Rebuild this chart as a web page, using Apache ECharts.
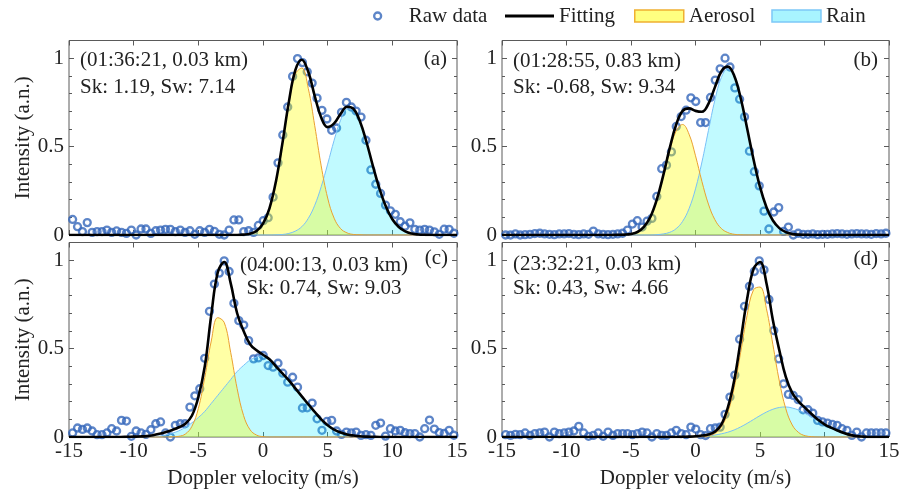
<!DOCTYPE html>
<html>
<head>
<meta charset="utf-8">
<script src="https://cdn.jsdelivr.net/npm/echarts@6/dist/echarts.min.js"></script>
<style>
  html, body { margin: 0; padding: 0; background: #fff; }
  #main { width: 903px; height: 493px; }
</style>
</head>
<body>
<div id="main"></div>
<script>
// velocity bins of the raw spectra (m/s)
const velocity = [-14.72,-14.34,-13.96,-13.59,-13.21,-12.83,-12.45,-12.07,-11.70,-11.32,
  -10.94,-10.56,-10.18,-9.81,-9.43,-9.05,-8.67,-8.29,-7.92,-7.54,
  -7.16,-6.78,-6.40,-6.03,-5.65,-5.27,-4.89,-4.51,-4.14,-3.76,
  -3.38,-3.00,-2.62,-2.25,-1.87,-1.49,-1.11,-0.73,-0.36,0.02,
  0.40,0.78,1.16,1.53,1.91,2.29,2.67,3.05,3.42,3.80,
  4.18,4.56,4.94,5.31,5.69,6.07,6.45,6.83,7.20,7.58,
  7.96,8.34,8.72,9.09,9.47,9.85,10.23,10.61,10.98,11.36,
  11.74,12.12,12.50,12.87,13.25,13.63,14.01,14.39,14.76]

const rawA = [.088,.047,.019,.07,.015,.019,.019,.028,.015,.023,
  .015,.009,.028,0,.034,.034,.009,.024,.028,.032,
  .032,.019,.028,.015,.024,.004,.024,.015,.032,.021,
  .004,0,.028,.085,.085,.019,.024,.015,.054,.081,
  .098,.214,.408,.566,.724,.897,.998,.975,.923,.859,
  .774,.705,.656,.592,.605,.694,.75,.724,.701,.667,
  .536,.368,.287,.235,.169,.137,.117,.075,.05,.069,
  .032,.028,.032,.028,.018,.004,.033,.032,.01]
const rawB = [0,0,.006,0,.002,.004,.008,.01,.006,.004,
  .002,.006,.006,.008,.004,.002,.006,.004,.022,.006,
  .004,.002,.004,.006,.01,.028,.062,.081,.045,.078,
  .094,.218,.375,.395,.47,.614,.67,.706,.776,.755,
  .636,.636,.778,.876,.94,1.0,.95,.832,.768,.668,
  .474,.358,.278,.135,.034,.13,.155,.02,.045,0,
  .01,.004,.004,.006,.002,.004,.004,.006,.008,.006,
  .004,.006,.008,.006,.006,.004,.008,.006,.01]
const rawC = [.023,.051,.043,.051,.034,.013,.013,.023,.047,.034,
  .094,.09,.004,.034,.023,.015,.041,.075,.085,.023,
  0,.066,.075,.075,.169,.233,.273,.445,.711,.865,
  .927,.996,.936,.756,.658,.633,.545,.442,.447,.461,
  .404,.395,.417,.361,.31,.338,.282,.164,.165,.192,
  .103,.038,.088,.094,.034,.015,.028,.023,.028,.009,
  .013,.009,.066,.079,.005,.047,.034,.038,.024,.019,
  .019,0,.047,.096,.045,.025,.02,.038,.01]
const rawD = [.013,.009,.015,.013,.023,.009,.019,.023,.028,0,
  .028,.019,.023,.028,.034,.06,.023,.004,.009,.023,
  .004,.028,.009,.019,.019,.019,.013,.019,.028,.023,
  0,.019,.009,.009,.023,.038,.019,.013,.056,.045,
  .013,.008,.047,.051,.056,.128,.226,.35,.553,.739,
  .852,.936,.996,.945,.778,.602,.442,.301,.241,.235,
  .211,.154,.154,.135,.094,.085,.079,.071,.066,.047,
  .038,.009,.028,0,.023,.023,.023,.023,.023]

// velocity grid of the fitted curves
const curveV = [-15,-14.5,-14,-13.5,-13,-12.5,-12,-11.5,-11,-10.5,
  -10,-9.5,-9,-8.5,-8,-7.5,-7,-6.5,-6,-5.5,
  -5,-4.5,-4,-3.5,-3,-2.5,-2,-1.5,-1,-0.5,
  0,0.5,1,1.5,2,2.5,3,3.5,4,4.5,
  5,5.5,6,6.5,7,7.5,8,8.5,9,9.5,
  10,10.5,11,11.5,12,12.5,13,13.5,14,14.5,15]

const fitA = [0,0,0,0,0,0,0,0,0,0, 0,0,0,0,0,0,0,0,0,0, 0,0,0,0,0,0,0,.002,.007,.023,
  .064,.151,.303,.518,.753,.932,.991,.923,.786,.664,
  .61,.631,.685,.725,.713,.642,.526,.39,.263,.161,
  .089,.045,.02,.008,.003,.001,0,0,0,0,0]
const aerosolA = [0,0,0,0,0,0,0,0,0,0, 0,0,0,0,0,0,0,0,0,0, 0,0,0,0,0,0,0,.002,.007,.023,
  .064,.151,.302,.515,.744,.91,.944,.829,.618,.391,
  .209,.095,.036,.012,.003,.001,0,0,0,0,
  0,0,0,0,0,0,0,0,0,0,0]
const rainA = [0,0,0,0,0,0,0,0,0,0, 0,0,0,0,0,0,0,0,0,0, 0,0,0,0,0,0,0,0,0,0,
  0,0,.001,.003,.009,.022,.047,.094,.168,.273,
  .401,.536,.649,.713,.71,.641,.526,.39,.263,.161,
  .089,.045,.02,.008,.003,.001,0,0,0,0,0]

const fitB = [0,0,0,0,0,0,0,0,0,0, 0,0,0,0,0,0,0,0,.001,.002,
  .006,.017,.046,.102,.2,.337,.491,.624,.702,.716,
  .702,.697,.742,.835,.925,.952,.901,.775,.604,.427,
  .272,.157,.082,.039,.016,.006,.002,.001,0,0,
  0,0,0,0,0,0,0,0,0,0,0]
const aerosolB = [0,0,0,0,0,0,0,0,0,0, 0,0,0,0,0,0,0,0,0,.002,
  .006,.017,.045,.101,.198,.331,.476,.588,.625,.57,
  .448,.302,.175,.087,.037,.014,.004,.001,0,0,
  0,0,0,0,0,0,0,0,0,0,
  0,0,0,0,0,0,0,0,0,0,0]
const rainB = [0,0,0,0,0,0,0,0,0,0, 0,0,0,0,0,0,0,0,0,0,
  0,0,0,0,.002,.006,.015,.036,.077,.149,
  .261,.413,.59,.762,.89,.94,.897,.774,.604,.427,
  .272,.157,.082,.039,.016,.006,.002,.001,0,0,
  0,0,0,0,0,0,0,0,0,0,0]

const fitC = [0,0,0,0,0,0,0,0,0,.001,
  .002,.003,.005,.01,.018,.028,.04,.055,.075,.12,
  .225,.4,.69,.93,.99,.87,.7,.6,.525,.49,
  .465,.44,.4,.36,.32,.275,.23,.185,.142,.1,
  .067,.042,.025,.014,.008,.004,.002,.001,0,0,
  0,0,0,0,0,0,0,0,0,0,0]
const aerosolC = [0,0,0,0,0,0,0,0,0,0, 0,0,0,0,0,0,.001,.004,.017,.06,
  .161,.337,.543,.675,.648,.479,.274,.121,.041,.011,
  .002,0,0,0,0,0,0,0,0,0,
  0,0,0,0,0,0,0,0,0,0,
  0,0,0,0,0,0,0,0,0,0,0]
const rainC = [0,0,0,0,0,0,0,0,0,0, 0,0,.001,.002,.005,.012,.022,.035,.055,.08,
  .11,.145,.19,.235,.28,.325,.37,.405,.435,.452,
  .46,.44,.4,.36,.32,.275,.23,.185,.142,.1,
  .067,.042,.025,.014,.008,.004,.002,.001,0,0,
  0,0,0,0,0,0,0,0,0,0,0]

const fitD = [0,0,0,0,0,0,0,0,0,0, 0,0,0,0,0,0,0,0,0,0, 0,0,0,0,0,0,0,0,.001,.002,
  .004,.008,.014,.03,.07,.165,.32,.545,.78,.95,
  .99,.87,.66,.49,.34,.25,.2,.165,.13,.097,
  .072,.053,.037,.023,.012,.005,.002,0,0,0,0]
const aerosolD = [0,0,0,0,0,0,0,0,0,0, 0,0,0,0,0,0,0,0,0,0, 0,0,0,0,0,0,0,0,0,0,
  0,.001,.006,.02,.057,.137,.279,.478,.688,.833,
  .848,.725,.522,.316,.16,.068,.025,.007,.002,0,
  0,0,0,0,0,0,0,0,0,0,0]
const rainD = [0,0,0,0,0,0,0,0,0,0, 0,0,0,0,0,0,0,0,0,0, 0,0,0,0,0,0,0,0,0,.001,
  .002,.004,.006,.011,.018,.027,.04,.057,.077,.099,
  .121,.141,.157,.167,.17,.164,.152,.133,.112,.09,
  .069,.05,.035,.023,.012,.006,.003,.001,0,0,0]

const panelTime = ['(01:36:21, 0.03 km)', '(01:28:55, 0.83 km)', '(04:00:13, 0.03 km)', '(23:32:21, 0.03 km)']
const panelSkSw = ['Sk: 1.19, Sw: 7.14', 'Sk: -0.68, Sw: 9.34', 'Sk: 0.74, Sw: 9.03', 'Sk: 0.43, Sw: 4.66']
const panelTag = ['(a)', '(b)', '(c)', '(d)']
const yLabelValues = [0, 0.5, 1]

const font = 'Liberation Serif'
const frameColor = '#5a5a5a'
const textColor = '#222'
const blue = '#3566ba'

const pair = (xs, ys) => xs.map((x, i) => [x, ys[i]])

const panels = [
  { raw: rawA, fit: fitA, aero: aerosolA, rain: rainA },
  { raw: rawB, fit: fitB, aero: aerosolB, rain: rainB },
  { raw: rawC, fit: fitC, aero: aerosolC, rain: rainC },
  { raw: rawD, fit: fitD, aero: aerosolD, rain: rainD }
]

const gridBoxes = [
  { left: 69, top: 40.5, width: 388, height: 194.5 },
  { left: 502, top: 40.5, width: 387, height: 194.5 },
  { left: 69, top: 242.5, width: 388, height: 194.5 },
  { left: 502, top: 242.5, width: 387, height: 194.5 }
]

const labelText = { fontFamily: font, fontSize: 21, color: textColor }
const tickLine = { color: frameColor, width: 1 }
const noLine = { show: false, onZero: false }

const grid = gridBoxes.map(b => Object.assign({ show: true, borderColor: frameColor, borderWidth: 1 }, b))
const xAxis = []
const yAxis = []
const series = []

panels.forEach((p, g) => {
  const bottom = g >= 2
  const left = g % 2 === 0
  // bottom and top x axes (ticks on both sides of the frame)
  ;['bottom', 'top'].forEach(pos => {
    xAxis.push({
      gridIndex: g, type: 'value', min: -15, max: 15, interval: 5, position: pos,
      axisLine: noLine, splitLine: { show: false },
      axisTick: { inside: true, length: 5, lineStyle: tickLine },
      axisLabel: Object.assign({ show: bottom && pos === 'bottom', margin: 4 }, labelText),
      name: bottom && pos === 'bottom' ? 'Doppler velocity (m/s)' : '',
      nameLocation: 'middle', nameGap: 31, nameTextStyle: labelText
    })
  })
  // left/right y axes: minor ticks every 0.1, longer ticks at labelled values
  ;['left', 'right'].forEach(pos => {
    yAxis.push({
      gridIndex: g, type: 'value', min: 0, max: 1.1, interval: 0.1, position: pos,
      axisLine: noLine, splitLine: { show: false },
      axisTick: { inside: true, length: 3, lineStyle: tickLine },
      axisLabel: Object.assign({ show: pos === 'left', margin: 5, customValues: yLabelValues }, labelText),
      name: pos === 'left' && left ? 'Intensity (a.n.)' : '',
      nameLocation: 'middle', nameGap: 32, nameTextStyle: labelText
    })
    yAxis.push({
      gridIndex: g, type: 'value', min: 0, max: 1.1, position: pos,
      axisLine: noLine, splitLine: { show: false },
      axisTick: { inside: true, length: 5, lineStyle: tickLine, customValues: yLabelValues },
      axisLabel: { show: false }
    })
  })

  const xi = g * 2
  const yi = g * 4
  series.push({
    name: 'Rain', type: 'line', xAxisIndex: xi, yAxisIndex: yi,
    data: pair(curveV, p.rain), smooth: 0.4, symbol: 'none', showSymbol: false,
    lineStyle: { color: '#78c0f8', width: 1 },
    areaStyle: { color: 'rgba(0,235,255,0.35)' }
  })
  series.push({
    name: 'Aerosol', type: 'line', xAxisIndex: xi, yAxisIndex: yi,
    data: pair(curveV, p.aero), smooth: 0.4, symbol: 'none', showSymbol: false,
    lineStyle: { color: '#eaa030', width: 1 },
    areaStyle: { color: 'rgba(255,255,0,0.5)' }
  })
  series.push({
    name: 'Fitting', type: 'line', xAxisIndex: xi, yAxisIndex: yi,
    data: pair(curveV, p.fit), smooth: 0.4, symbol: 'none', showSymbol: false,
    lineStyle: { color: '#000', width: 2.6 }
  })
  series.push({
    name: 'Raw data', type: 'scatter', xAxisIndex: xi, yAxisIndex: yi,
    data: pair(velocity, p.raw), symbol: 'circle', symbolSize: 7,
    itemStyle: { color: 'rgba(0,0,0,0)', borderColor: blue, borderWidth: 2.3 }
  })
})

// panel annotations
const annotPos = [
  { x: 80, y1: 60, y2: 87, align: 'left', tagX: 447, tagY: 59 },
  { x: 513, y1: 61, y2: 87, align: 'left', tagX: 878, tagY: 60 },
  { x: 324, y1: 265, y2: 288, align: 'center', tagX: 448, tagY: 258 },
  { x: 513, y1: 264, y2: 288, align: 'left', tagX: 878, tagY: 259 }
]
const txt = (text, x, y, align) => ({
  type: 'text', x, y, silent: true,
  style: { text, fontFamily: font, fontSize: 21, fill: textColor, align, verticalAlign: 'middle' }
})
const graphic = []
annotPos.forEach((a, g) => {
  graphic.push(txt(panelTime[g], a.x, a.y1, a.align))
  graphic.push(txt(panelSkSw[g], a.x, a.y2, a.align))
  graphic.push(txt(panelTag[g], a.tagX, a.tagY, 'right'))
})

const legendText = { fontFamily: font, fontSize: 21, color: textColor, lineHeight: 22 }
const legend = [
  {
    // the legend box is aligned on the visible marker, not on the full icon slot
    left: 373, top: 5, padding: 0, itemWidth: 52, itemHeight: 7, selectedMode: false, textStyle: legendText,
    data: [{ name: 'Raw data', icon: 'circle', itemStyle: { color: 'rgba(0,0,0,0)', borderColor: blue, borderWidth: 2.3 } }]
  },
  {
    left: 505, top: 5, padding: 0, itemWidth: 49, itemHeight: 3, selectedMode: false, textStyle: legendText,
    data: [{ name: 'Fitting', icon: 'rect', itemStyle: { color: '#000', borderWidth: 0 } }]
  },
  {
    left: 634, top: 5, padding: 0, itemWidth: 49, itemHeight: 12, itemGap: 16, selectedMode: false, textStyle: legendText,
    data: [
      { name: 'Aerosol', icon: 'rect', itemStyle: { color: '#ffff80', borderColor: '#f0b030', borderWidth: 1.5 } },
      { name: 'Rain', icon: 'rect', itemStyle: { color: '#a8f4ff', borderColor: '#7cc8f8', borderWidth: 1.5 } }
    ]
  }
]

const chart = echarts.init(document.getElementById('main'))
chart.setOption({
  animation: false,
  backgroundColor: '#fff',
  grid, xAxis, yAxis, series, legend, graphic
})
</script>
</body>
</html>
